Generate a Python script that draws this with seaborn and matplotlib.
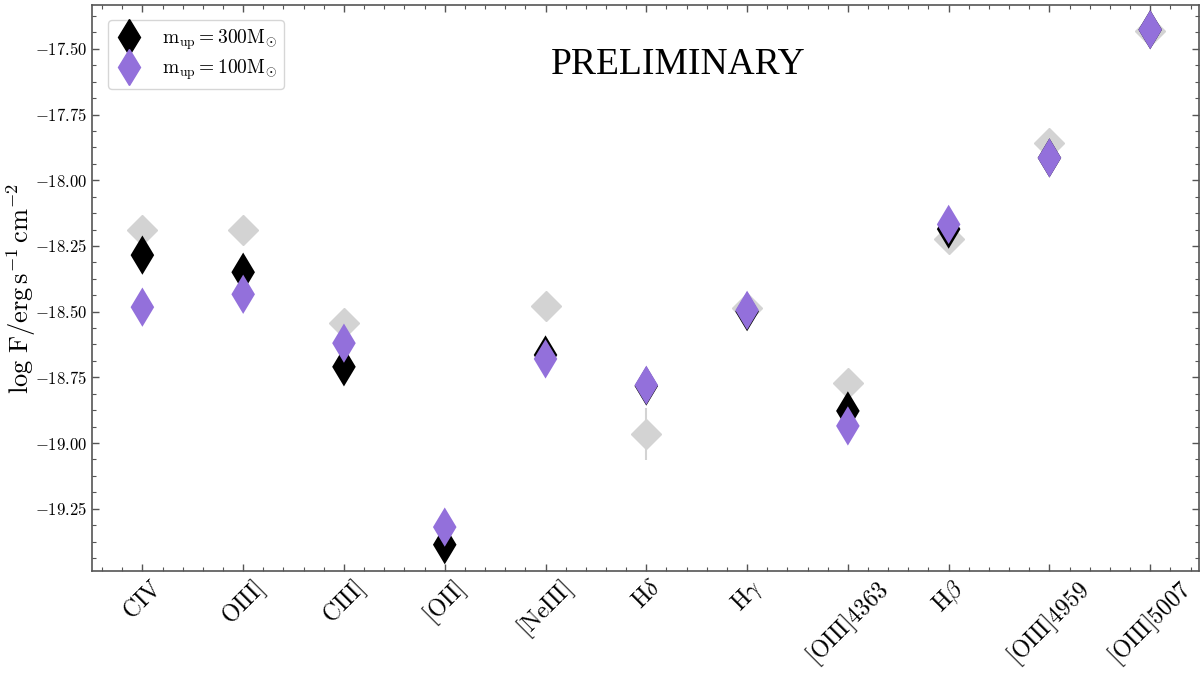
import numpy as np
import pandas as pd
import matplotlib
matplotlib.use("Agg")
import matplotlib.pyplot as plt
from matplotlib.ticker import MultipleLocator, FuncFormatter
from matplotlib.lines import Line2D
import seaborn as sns

# Emission lines
lines = ["CIV", "OIII]", "CIII]", "[OII]", "[NeIII]", r"H\delta", r"H\gamma",
         "[OIII]4363", r"H\beta", "[OIII]4959", "[OIII]5007"]

# Observed log fluxes and 1-sigma errors (NaN: not measured)
obs_flux = [-18.19, -18.19, -18.545, np.nan, -18.48, -18.965, -18.485,
            -18.77, -18.225, -17.857, -17.433]
obs_err = [0.0, 0.0, 0.0, np.nan, 0.055, 0.10, 0.0, 0.0, 0.0, 0.0, 0.0]

# Model predictions for two IMF upper mass cut-offs
model_300 = [-18.285, -18.35, -18.71, -19.387, -18.665, -18.783, -18.50,
             -18.878, -18.186, -17.915, -17.427]
model_100 = [-18.483, -18.434, -18.62, -19.32, -18.68, -18.78, -18.495,
             -18.935, -18.168, -17.915, -17.427]

label_300 = r"$\mathrm{m_{up}} = 300\mathrm{M_{\odot}}$"
label_100 = r"$\mathrm{m_{up}} = 100\mathrm{M_{\odot}}$"

sns.set_style("ticks")
plt.rcParams.update({
    "font.family": ["DejaVu Serif"],
    "mathtext.fontset": "cm",
    "text.color": "black",
    "axes.labelcolor": "black",
    "xtick.direction": "in",
    "ytick.direction": "in",
    "xtick.top": True,
    "ytick.right": True,
    "xtick.minor.visible": True,
    "ytick.minor.visible": True,
    "axes.edgecolor": "#555555",
    "xtick.color": "#555555",
    "ytick.color": "#555555",
    "xtick.labelcolor": "black",
    "ytick.labelcolor": "black",
})

tick_names = [r"$\mathrm{" + s + "}$" for s in lines]
x = np.arange(len(lines))

df = pd.DataFrame({
    "line": tick_names * 2,
    "pos": np.concatenate([x, x]),
    "flux": model_300 + model_100,
    "model": [label_300] * len(lines) + [label_100] * len(lines),
})

fig = plt.figure(figsize=(12.01, 6.73), dpi=100)
ax = fig.add_axes([0.0766, 0.1516, 0.9214, 0.841])

# observations with error bars
ax.errorbar(x, obs_flux, yerr=obs_err, fmt="D", color="lightgray",
            markersize=15, elinewidth=1.5, capsize=0, zorder=2)

sns.scatterplot(data=df, x="pos", y="flux", hue="model",
                palette={label_300: "black", label_100: "mediumpurple"},
                marker="d", s=400, linewidth=0, ax=ax, zorder=3,
                legend=False)

ax.set_xlim(-0.5, 10.48)
ax.set_ylim(-19.487, -17.333)
ax.set_xticks(x)
ax.set_xticklabels(tick_names, rotation=45, ha="center", fontsize=17)
ax.xaxis.set_minor_locator(MultipleLocator(0.2))
ax.yaxis.set_major_locator(MultipleLocator(0.25))
ax.yaxis.set_minor_locator(MultipleLocator(0.0625))
ax.yaxis.set_major_formatter(FuncFormatter(lambda v, p: r"$%.2f$" % v))
ax.tick_params(axis="y", labelsize=12)
ax.tick_params(which="major", length=5, width=1)
ax.tick_params(which="minor", length=3, width=0.8)
ax.set_xlabel("")
ax.set_ylabel(r"$\log\,\mathrm{F/erg\,s^{-1}\,cm^{-2}}$", fontsize=19)
ax.yaxis.label.set_va("center")
ax.yaxis.set_label_coords(-0.064, 0.5)
for sp in ax.spines.values():
    sp.set_linewidth(1.2)

handles = [Line2D([], [], marker="d", color="black", linestyle="none", markersize=18),
           Line2D([], [], marker="d", color="mediumpurple", linestyle="none", markersize=18)]
ax.legend(handles, [label_300, label_100], loc="upper left", fontsize=14,
          frameon=True, fancybox=True, framealpha=0.8, edgecolor="#cccccc",
          handletextpad=1.0, borderpad=0.35, labelspacing=0.3,
          handlelength=1.4, bbox_to_anchor=(0.006, 0.99))

ax.text(0.53, 0.894, "PRELIMINARY", transform=ax.transAxes, ha="center",
        va="center", fontsize=27, color="black", family=["Liberation Serif"])

fig.savefig("out.png", dpi=100)
